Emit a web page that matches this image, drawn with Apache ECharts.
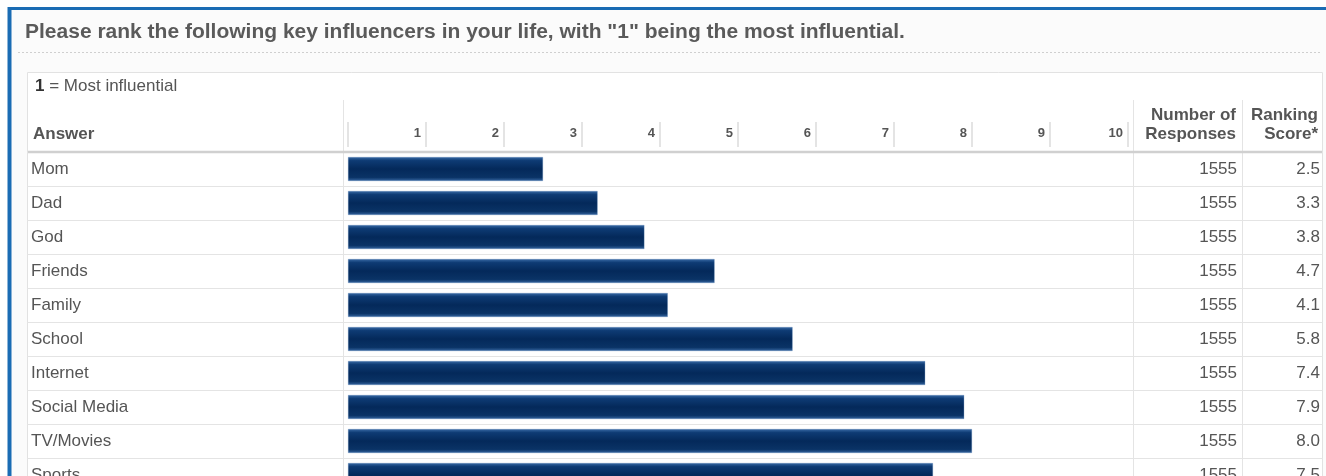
<!DOCTYPE html>
<html>
<head>
<meta charset="utf-8">
<script src="https://cdn.jsdelivr.net/npm/echarts@6/dist/echarts.min.js"></script>
<style>
html,body{margin:0;padding:0;background:#fff;overflow:hidden;width:1326px;height:476px;}
#c{width:1326px;height:500px;}
</style>
</head>
<body>
<div id="c"></div>
<script>
// ---- data ----
const answers = ["Mom","Dad","God","Friends","Family","School","Internet","Social Media","TV/Movies","Sports"];
const barValues = [2.5, 3.2, 3.8, 4.7, 4.1, 5.7, 7.4, 7.9, 8.0, 7.5];
const responses = [1555,1555,1555,1555,1555,1555,1555,1555,1555,1555];
const scoreLabels = ["2.5","3.3","3.8","4.7","4.1","5.8","7.4","7.9","8.0","7.5"];
const rankTicks = ["1","2","3","4","5","6","7","8","9","10"];
const titleText = 'Please rank the following key influencers in your life, with "1" being the most influential.';

const FONT = '"Liberation Sans", Arial, sans-serif';
const TXT = '#555555';
const LINE = '#e4e4e4';
const FS = 17;

const chart = echarts.init(document.getElementById('c'));

const gridTop = 152, gridH = 340;
function catAxis(gi, extra) {
  return Object.assign({
    type: 'category', gridIndex: gi, data: answers, inverse: true,
    axisLine: {show: false}, axisTick: {show: false},
    axisLabel: {show: false},
    splitLine: {show: true, interval: 0, lineStyle: {color: LINE, width: 1}}
  }, extra || {});
}
function hiddenX(gi) {
  return {type: 'value', gridIndex: gi, show: false, min: 0, max: 1};
}

const option = {
  animation: false,
  backgroundColor: '#ffffff',
  textStyle: {fontFamily: FONT},
  graphic: [
    {type: 'rect', z: -10, shape: {x: 8, y: 7, width: 1330, height: 500}, style: {fill: '#fbfbfb'}},
    {type: 'line', z: -5, shape: {x1: 8, y1: 8.5, x2: 1326, y2: 8.5}, style: {stroke: '#1a6cb4', lineWidth: 3}},
    {type: 'line', z: -5, shape: {x1: 9.5, y1: 7, x2: 9.5, y2: 500}, style: {stroke: '#1a6cb4', lineWidth: 4}},
    {type: 'text', z: -4, x: 25, y: 32, scaleX: 1.05, style: {text: titleText, fill: '#5a5a5a', font: 'bold 20px ' + FONT, textVerticalAlign: 'middle'}},
    {type: 'line', z: -4, shape: {x1: 18, y1: 52.5, x2: 1322, y2: 52.5}, style: {stroke: '#cfcfcf', lineWidth: 1, lineDash: [2, 2]}},
    {type: 'rect', z: -4, shape: {x: 27.5, y: 72.5, width: 1295, height: 440}, style: {fill: '#ffffff', stroke: '#e2e2e2', lineWidth: 1}},
    {type: 'text', z: -3, x: 35, y: 86, style: {
      text: '{b|1} = Most influential', textVerticalAlign: 'middle',
      rich: {b: {font: 'bold ' + FS + 'px ' + FONT, fill: '#333'}}, font: FS + 'px ' + FONT, fill: TXT}},
    {type: 'line', z: -3, shape: {x1: 343.5, y1: 100, x2: 343.5, y2: 500}, style: {stroke: LINE, lineWidth: 1}},
    {type: 'line', z: -3, shape: {x1: 1133.5, y1: 100, x2: 1133.5, y2: 500}, style: {stroke: LINE, lineWidth: 1}},
    {type: 'line', z: -3, shape: {x1: 1242.5, y1: 100, x2: 1242.5, y2: 500}, style: {stroke: LINE, lineWidth: 1}},
    {type: 'text', z: -3, x: 33, y: 134, style: {text: 'Answer', fill: TXT, font: 'bold ' + FS + 'px ' + FONT, textVerticalAlign: 'middle'}},
    {type: 'text', z: -3, x: 1236, y: 115, style: {text: 'Number of', fill: TXT, font: 'bold ' + FS + 'px ' + FONT, textAlign: 'right', textVerticalAlign: 'middle'}},
    {type: 'text', z: -3, x: 1236, y: 134, style: {text: 'Responses', fill: TXT, font: 'bold ' + FS + 'px ' + FONT, textAlign: 'right', textVerticalAlign: 'middle'}},
    {type: 'text', z: -3, x: 1318, y: 115, style: {text: 'Ranking', fill: TXT, font: 'bold ' + FS + 'px ' + FONT, textAlign: 'right', textVerticalAlign: 'middle'}},
    {type: 'text', z: -3, x: 1318, y: 134, style: {text: 'Score*', fill: TXT, font: 'bold ' + FS + 'px ' + FONT, textAlign: 'right', textVerticalAlign: 'middle'}},
    {type: 'line', z: 50, shape: {x1: 28, y1: 152, x2: 1322, y2: 152}, style: {stroke: '#d0d0d0', lineWidth: 2.5}}
  ],
  grid: [
    {left: 27, top: gridTop, width: 316, height: gridH},
    {left: 343, top: gridTop, width: 790, height: gridH},
    {left: 348, top: gridTop, width: 780, height: gridH},
    {left: 1133, top: gridTop, width: 109, height: gridH},
    {left: 1242, top: gridTop, width: 81, height: gridH}
  ],
  xAxis: [
    hiddenX(0),
    hiddenX(1),
    {
      type: 'value', gridIndex: 2, min: 0, max: 10, interval: 1, position: 'top', offset: 5,
      axisLine: {show: false},
      axisTick: {show: true, length: 25, lineStyle: {color: '#dcdcdc', width: 1.5}},
      splitLine: {show: false},
      axisLabel: {
        show: true, margin: 14, align: 'right', verticalAlign: 'middle', padding: [0, 5, 0, 0],
        color: TXT, fontWeight: 'bold', fontSize: 13, fontFamily: FONT,
        formatter: function (v) { return v >= 1 ? rankTicks[Math.round(v) - 1] : ''; }
      }
    },
    hiddenX(3),
    hiddenX(4)
  ],
  yAxis: [
    catAxis(0, {axisLabel: {show: true, inside: true, interval: 0, margin: 4, color: TXT, fontSize: FS, fontFamily: FONT}}),
    catAxis(1),
    catAxis(2, {splitLine: {show: false}}),
    catAxis(3, {position: 'right', axisLabel: {show: true, inside: true, interval: 0, margin: 5, color: TXT, fontSize: FS, fontFamily: FONT,
      formatter: function (v, i) { return String(responses[i]); }}}),
    catAxis(4, {position: 'right', axisLabel: {show: true, inside: true, interval: 0, margin: 3, color: TXT, fontSize: FS, fontFamily: FONT,
      formatter: function (v, i) { return scoreLabels[i]; }}})
  ],
  series: [{
    type: 'bar', xAxisIndex: 2, yAxisIndex: 2, data: barValues, barWidth: 24, silent: true,
    itemStyle: {
      borderColor: 'rgba(90,130,180,0.6)', borderWidth: 0.5,
      color: new echarts.graphic.LinearGradient(0, 0, 0, 1, [
        {offset: 0, color: '#3a6ba6'},
        {offset: 0.15, color: '#0e3b74'},
        {offset: 0.5, color: '#04295a'},
        {offset: 0.85, color: '#0a3366'},
        {offset: 1, color: '#3565a0'}
      ])
    }
  }]
};
chart.setOption(option);
</script>
</body>
</html>
